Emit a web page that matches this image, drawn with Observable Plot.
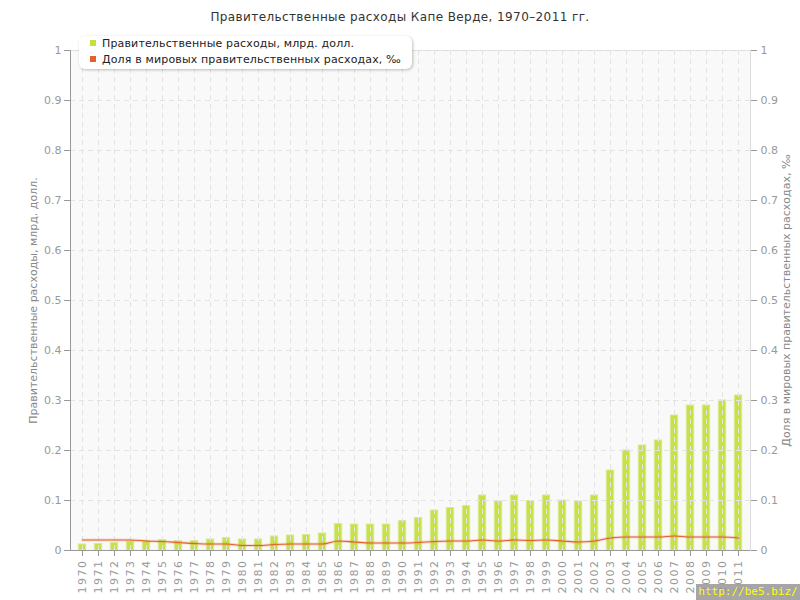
<!DOCTYPE html>
<html>
<head>
<meta charset="utf-8">
<script src="https://cdn.jsdelivr.net/npm/d3@7"></script>
<script src="https://cdn.jsdelivr.net/npm/@observablehq/plot@0.6"></script>
<style>
  html, body { margin: 0; padding: 0; background: #fff; }
  #wrap { position: relative; width: 800px; height: 600px; font-family: "DejaVu Sans", Verdana, sans-serif; }
  #title { position: absolute; left: 0; top: 10px; width: 800px; text-align: center; font-size: 12px; color: #333; letter-spacing: 0.4px; }
  #legend { position: absolute; left: 79px; top: 36px; width: 333px; height: 33px; background: #fff; border-radius: 6px;
            box-shadow: 1px 1px 3px rgba(0,0,0,0.25); font-size: 11px; color: #222; letter-spacing: 0.15px; }
  .item { position: absolute; left: 11px; white-space: nowrap; }
  .sw { display: inline-block; width: 6px; height: 6px; margin-right: 6px; vertical-align: 1px; }
  .ytitle { position: absolute; font-size: 11px; color: #888; white-space: nowrap; letter-spacing: 0;
            transform-origin: center center; }
  #wm { position: absolute; right: 0; bottom: 0; width: 104px; height: 16px; background: rgba(150,150,150,0.85);
        color: #ffff00; font-family: "DejaVu Sans Mono", monospace; font-size: 11px; line-height: 16px; text-align: center; }
  svg { position: absolute; left: 0; top: 0; }
</style>
</head>
<body>
<div id="wrap"></div>
<script>
// Government spending of Cape Verde, 1970–2011
const years = ["1970","1971","1972","1973","1974","1975","1976","1977","1978","1979",
               "1980","1981","1982","1983","1984","1985","1986","1987","1988","1989",
               "1990","1991","1992","1993","1994","1995","1996","1997","1998","1999",
               "2000","2001","2002","2003","2004","2005","2006","2007","2008","2009",
               "2010","2011"];
// spending, billion USD
const spending = [0.012,0.013,0.015,0.018,0.019,0.021,0.019,0.019,0.022,0.025,
                  0.022,0.022,0.028,0.030,0.031,0.034,0.053,0.052,0.052,0.052,
                  0.059,0.065,0.080,0.085,0.089,0.11,0.098,0.11,0.099,0.11,
                  0.10,0.098,0.11,0.16,0.20,0.21,0.22,0.27,0.29,0.29,
                  0.30,0.31];
// share of world government spending, per mille
const share = [0.021,0.021,0.021,0.021,0.019,0.018,0.016,0.014,0.013,0.013,
               0.010,0.010,0.012,0.013,0.013,0.013,0.019,0.017,0.015,0.015,
               0.015,0.016,0.018,0.019,0.019,0.021,0.019,0.021,0.020,0.021,
               0.019,0.017,0.019,0.025,0.027,0.027,0.027,0.029,0.027,0.027,
               0.027,0.025];
const yTicks = [0,0.1,0.2,0.3,0.4,0.5,0.6,0.7,0.8,0.9,1];

const titleText = "Правительственные расходы Капе Верде, 1970–2011 гг.";
const seriesNames = ["Правительственные расходы, млрд. долл.", "Доля в мировых правительственных расходах, ‰"];
const seriesColors = ["#c4df3f", "#e4612b"];

const rows = years.map((year, i) => ({year, spending: spending[i], share: share[i]}));

const axisStyle = {fill: "#999", fontSize: 11, stroke: "#999"};
const fmt = d => String(d);

const chart = Plot.plot({
  width: 800,
  height: 600,
  marginLeft: 70,
  marginRight: 50,
  marginTop: 50,
  marginBottom: 50,
  style: {fontFamily: "DejaVu Sans, sans-serif", fontSize: "11px", background: "transparent", overflow: "visible"},
  x: {type: "band", domain: years, padding: 0, label: null},
  y: {domain: [0, 1], label: null},
  marks: [
    Plot.frame({fill: "#f9f9f9", stroke: "#dcdcdc"}),
    Plot.barY(rows, {x: "year", y: "spending", fill: seriesColors[0], fillOpacity: 0.95,
                     stroke: "#d9eb8e", strokeWidth: 1, insetLeft: 4.3, insetRight: 4.3}),
    Plot.gridY(yTicks, {stroke: "#e3e3e3", strokeOpacity: 1, strokeDasharray: "5,4"}),
    Plot.gridX(years, {stroke: "#e3e3e3", strokeOpacity: 1, strokeDasharray: "5,4"}),
    Plot.line(rows, {x: "year", y: "share", stroke: seriesColors[1], strokeWidth: 3, strokeOpacity: 0.2, curve: "monotone-x"}),
    Plot.line(rows, {x: "year", y: "share", stroke: seriesColors[1], strokeWidth: 1.1, curve: "monotone-x"}),
    Plot.frame({anchor: "left", stroke: "#999"}),
    Plot.ruleY([0], {stroke: "#999"}),
    Plot.axisY(yTicks, {anchor: "left", tickSize: 6, tickPadding: 3, tickFormat: fmt, ...axisStyle, label: null}),
    Plot.axisY(yTicks, {anchor: "right", tickSize: 6, tickPadding: 4, tickFormat: fmt, ...axisStyle, label: null}),
    Plot.axisX(years, {anchor: "bottom", tickSize: 6, tickPadding: 3, tickRotate: -90, ...axisStyle, label: null})
  ]
});

const wrap = document.getElementById("wrap");
wrap.appendChild(chart);
// spaced-out year labels under the bars
d3.select(chart).selectAll("g[aria-label='x-axis tick label'] text")
  .style("letter-spacing", "1.5px");

const title = document.createElement("div");
title.id = "title";
title.textContent = titleText;
wrap.appendChild(title);

const legend = document.createElement("div");
legend.id = "legend";
seriesNames.forEach((name, i) => {
  const item = document.createElement("div");
  item.className = "item";
  item.style.top = (i === 0 ? 1 : 17) + "px";
  item.innerHTML = `<span class="sw" style="background:${seriesColors[i]}"></span>${name}`;
  legend.appendChild(item);
});
wrap.appendChild(legend);

function axisTitle(text, cx) {
  const el = document.createElement("div");
  el.className = "ytitle";
  el.textContent = text;
  wrap.appendChild(el);
  const w = el.offsetWidth, h = el.offsetHeight;
  el.style.left = (cx - w / 2) + "px";
  el.style.top = (300 - h / 2) + "px";
  el.style.transform = "rotate(-90deg)";
}
axisTitle("Правительственные расходы, млрд. долл.", 33);
axisTitle("Доля в мировых правительственных расходах, ‰", 786);

const wm = document.createElement("div");
wm.id = "wm";
wm.textContent = "http://be5.biz/";
wrap.appendChild(wm);
</script>
</body>
</html>
